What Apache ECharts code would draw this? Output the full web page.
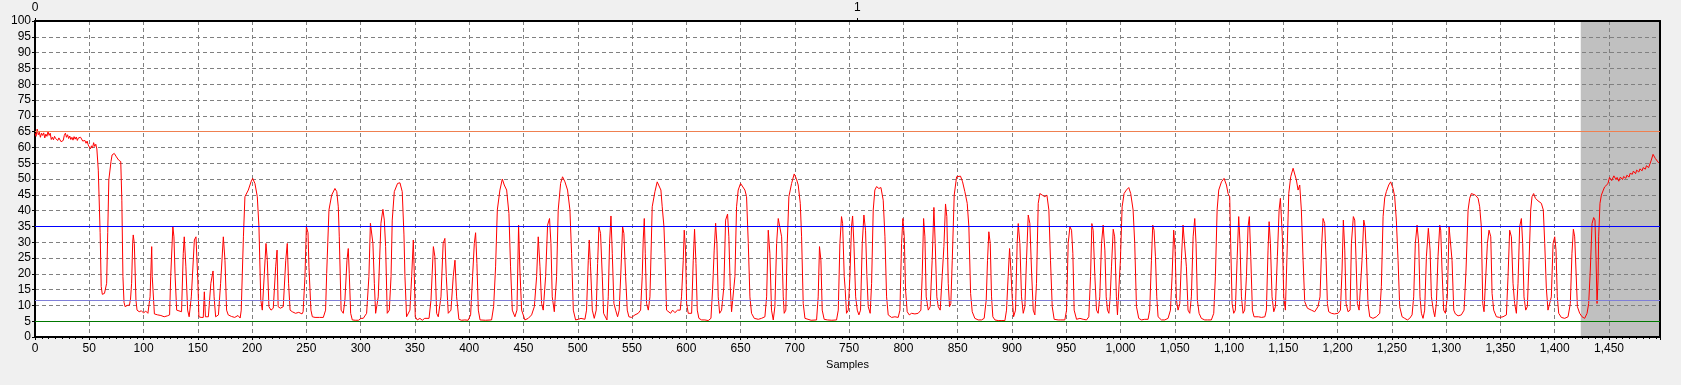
<!DOCTYPE html>
<html>
<head>
<meta charset="utf-8">
<script src="https://cdn.jsdelivr.net/npm/echarts@6/dist/echarts.min.js"></script>
<style>
html,body{margin:0;padding:0;background:#f0f0f0;}
#chart{width:1681px;height:385px;}
</style>
</head>
<body>
<div id="chart"></div>
<script>
// ---- data ----
const xTicks = [0,50,100,150,200,250,300,350,400,450,500,550,600,650,700,750,800,850,900,950,1000,1050,1100,1150,1200,1250,1300,1350,1400,1450];
const yTicks = [0,5,10,15,20,25,30,35,40,45,50,55,60,65,70,75,80,85,90,95,100];
const topTicks = [0, 1];
const xMax = 1497;
const topMax = 1.976;
const shadeRange = [1424, 1497];
const refValues = [65, 35, 11.6, 5];
const refColors = ['#ef8050', '#0000ff', '#7f7fd8', '#007800'];

// [sample, value] vertices of the red trace
const signalPoints = [
[0,64.5],[1,63.5],[2,65.8],[3,64],[4,64.8],[5,63.2],[6,64.5],[7,63.8],[8,64.6],[9,63],[10,64.2],[11,63.5],[12,65],[13,63.8],[14,64.5],[15,62.5],[16,63.2],[17,62.4],[18,63.5],[19,62.8],[20,63.2],[21,62.2],[22,63],[23,62.5],[24,61.8],[25,61.5],[26,62.2],[27,63.8],[28,64.5],[29,63.2],[30,64],[31,62.8],[32,63.6],[33,62.5],[34,63.2],[35,62.3],[36,63.4],[37,62.6],[38,63.3],[39,62.2],[40,63],[41,62.5],[42,63.2],[43,62.8],[44,62],[45,61.5],[46,62.2],[47,61.3],[48,62],[49,60.8],[50,60.5],[51,59.5],[52,60.5],[53,59.8],[54,61.5],[55,60.3],[56,61],[57,59.5],
[58.3,52.8],[60,33],[61,16],[62,13.5],[63,13.2],[64,13.8],[65,13.5],[66,17],[67,33],[68,49.7],[70,55.5],[71,57.6],[73,58.1],[75,57],[77,56],[79,55.5],[80,43.3],[81,19.1],[82,11],[83,9.6],[85,10],[87,10.1],[88,12],[89,17],[90,30],[90.5,32.3],[91.5,29.6],[93,11.7],[94,8.5],[96,8],[98,8.3],[100,7.6],[102,8.2],[104,7.5],[106,12.7],[107.5,28.6],[108,19.1],[109.6,9.6],[110,7.3],[113,7],[116,6.8],[119,6.4],[122,6.7],[124,7],[125,19.1],[127,34.9],[128,31.7],[129,20],[130.5,8.5],[132,8],[135,8],[136.6,26.5],[137.5,31.7],[139,22.2],[140.6,8.5],[142,6.4],[144,12.7],[146.8,30.7],[148.3,31.7],[150,18],[151,6.4],[153,6.2],[155,6.2],[156,14.3],[157,6.4],[159.7,6.4],[162,17],[164,20.9],[165,12.7],[166.4,6.4],[169,7],[171,17],[173.5,31.7],[175,24.3],[176.5,8.5],[178,7],[181,6.5],[184,6.2],[187,6.8],[189,6],[190,8.5],[192,31.7],[193.4,44.4],[196.5,46.5],[199,49.1],[200.5,50.2],[202.6,48.6],[204.8,44.4],[206.3,34.9],[208,11.7],[209.4,8.5],[211,8.5],[212.8,29.6],[214,24.3],[215.5,9.6],[217.4,8.5],[219.5,9.1],[221.7,22.2],[223,27.5],[224,9.6],[226,9.1],[228.7,9.6],[231,24.3],[232.4,29.6],[233.6,17],[235,8.5],[237,8],[240,7.5],[243,7.8],[246,7.3],[247,8],
[248.7,19.1],[250,34.9],[251.5,33],[252.4,22],[254.2,8.5],[255.5,6.4],[258,6.2],[262,6.2],[265.6,6.2],[267.7,8.5],[268.7,20.1],[270.8,40.2],[273.3,44.9],[276.3,47],[278,46],[279.4,41.2],[280.3,31.7],[282,8.5],[284,7.5],[285.5,11.7],[287.4,24.3],[288.6,28],[289.5,20.1],[290.8,7.5],[292.3,5.4],[295,5.3],[298,5.3],[300.3,5.9],[302.4,5.9],[305.5,7.5],[307.6,19.1],[309,36],[310.1,35.4],[311.3,29.6],[312.6,17],[313.8,7.5],[316.2,12.7],[318.7,36],[320.5,40.4],[321.8,37],[323,28.6],[324.5,7.5],[326.4,8.5],[328,19.1],[329.1,37],[331,46],[334,48.6],[336.2,48.8],[338.3,46],[339.9,32.3],[340.8,19.1],[342.3,6.4],[345.4,8.5],[347,19.1],[348.5,30.7],[349.4,20.1],[350.3,6.4],[352.2,5.4],[354.6,5.9],[356.8,5.3],[359,5.9],[363,5.9],[364.8,11.7],[367,28.6],[368.4,25.4],[370,7.5],[371.5,6.4],[374,12.7],[376,29.6],[377.6,31.2],[378.9,19.1],[380.7,7.5],[383.2,8.5],[385.3,19.1],[386.9,24.3],[388.4,12.7],[390.5,5.6],[393,5.3],[396,5.4],[399,5.3],[401.3,7],[403.1,19.1],[404.7,29.6],[405.9,33],[407.1,23.3],[408.4,8.5],[410,5.4],[415,5.3],[420.6,5.4],[422.5,9.6],[424.3,22.2],[425.9,40.2],[428.3,46.5],[430.5,50],[432.3,48.1],[434.5,46.5],[436.6,39.1],[438.1,22.2],[439.7,8.5],[442.1,6.4],[444,8.5],[445.5,35.4],[446.7,21.2],[448.3,8.5],[451.3,5.4],[454.4,5.9],[457.5,7],[460,9.6],[462.1,19.1],[463.6,31.7],[465.2,22.2],[466.7,10.6],[468.2,8.5],[470.4,19.1],[472.2,35.4],[474,37.5],[475.3,29.6],[476.5,12.7],[478.4,8],[480.5,19.1],[482,40.2],[484.2,48.6],[486,50.7],[488.2,49.1],[490.6,46.5],[492.8,40.2],[494.3,26.5],[495.9,8.5],[498,5.4],
[500.5,5.6],[503,5.9],[506.6,5.6],[508.1,8.5],[509.7,24.3],[510.6,30.7],[511.8,22.2],[513.4,8.5],[515.2,5.9],[517,8.5],[518.3,23.3],[519.5,34.9],[521,32.8],[522.6,19.1],[523.8,7.5],[525,7],[526.9,5.4],[528.1,12.7],[529.3,29.6],[530.6,38.3],[531.8,26.5],[533.3,10.6],[534.9,8.5],[536.7,6.4],[538.2,8.5],[539.8,21.2],[541.3,34.9],[542.5,32.8],[544.1,19.1],[545.6,8.5],[547.1,6.4],[549.6,6.2],[552.7,7],[555.7,7.5],[557.9,8.5],[559.4,19.1],[560.3,30.7],[561.3,37.5],[562.2,26.5],[563.4,10.6],[565,8.5],[566.5,12.7],[568.6,41.2],[571.1,46],[573.2,49.1],[574.8,48.6],[576.6,46.5],[577.8,41.2],[579.4,34.9],[580.3,26.5],[581.8,8.5],[583.4,8],[585.5,7.5],[587.4,8.5],[589.5,7.7],[592,8.5],[594.4,8.5],[595.6,12.7],[597.2,24.3],[598.1,33.8],[599.3,27.5],[600.3,10.6],[601.8,7.5],[604.9,7.5],[606.4,24.3],[607.6,34.1],[608.9,23.3],[610.1,8.5],[611.6,5.9],[614.1,5.4],[617.1,5.4],[620.2,5.2],[622.7,5.9],[624.2,14.9],[625.7,27.5],[627,36],[628.2,29.6],[629.4,12.7],[630.7,7.5],[632.5,8.5],[634.6,15.9],[636.2,37],[638,38.9],[639.2,31.7],[640.5,15.9],[641.7,8],[643.2,7.5],[644.8,19.1],[646.3,41.2],[647.8,46.5],[650,48.6],[651.8,48.1],[654,46.5],[655.5,44.4],[657.1,29.6],[658.6,12.7],[660.1,7.5],[662.6,5.9],[666.3,5.6],[669.3,5.9],[672.4,6.4],[674,12.7],[675.5,33.8],[677,26.5],[678.5,8.5],[680.1,5.4],[681.6,9.6],[683.2,29.6],[684.7,37.5],[686.2,37.8],[687.8,31.7],[689.3,12.7],[690.2,7.5],[691.7,8.5],[693,29.6],[694.5,44.4],[697,48.6],[699.4,51.6],[701.3,50.2],[703.1,48.1],[705,42.3],[706.2,31.7],[707.7,10.6],[709.3,5.9],[711,5.4],[715,5.3],[720,5.4],[721.5,12.7],[722.7,28.6],[724,24.3],[725.2,8.5],[727,5.6],[730,5.4],[734,5.3],[738.4,5.4],[740,8.5],[741.5,29.6],[743,38.1],[744,35.9],[745.5,19.1],[746.3,15.4],[747.6,7.5],
[749.2,8.5],[750.7,19.1],[752.2,34.9],[753.2,38.3],[754.4,29.6],[756,12.7],[757.5,8.5],[759,7],[760.5,8.5],[762.1,29.6],[763.6,38.6],[765.1,33.8],[766.4,19.1],[767.6,9.6],[769.4,7.5],[770.7,17],[772.2,40.2],[773.7,46.5],[775.3,47.6],[777.4,47],[779.3,47.3],[781.4,43.3],[783,31.7],[784.5,12.7],[786,7],[789.1,6.2],[792.2,6.4],[795.2,6.2],[796.8,8.5],[798.3,29.6],[799.5,37.5],[800.8,31.7],[802,14.9],[803.5,8],[805.4,7],[807.5,7.5],[810.6,7.3],[813.6,7.5],[816.1,8.5],[817.3,19.1],[818.6,37.5],[819.8,31.7],[821,12.7],[822.9,8.5],[824.7,9.6],[826.5,24.3],[828.1,41],[829.3,29.6],[830.8,12.7],[832.1,9.6],[833.9,8.5],[835.7,19.1],[837.3,28.6],[838.8,42.1],[840,38.1],[841.3,17],[842.5,9.6],[843.7,10.6],[845,24.3],[846.8,44.9],[849,50.7],[850.5,50.2],[852.6,50.9],[854.5,49.1],[856.6,46],[858.8,42.3],[860.3,34.9],[861.9,13.8],[863.4,8],[865.8,5.9],[868.9,5.4],[872,5.4],[874.4,5.9],[876.3,11.7],[877.5,24.3],[878.7,33.3],[880,29.6],[881.2,12.7],[882.4,6.4],[884.3,5.4],[887.3,5.2],[890,5.2],[893.5,5.2],[895,8.5],[896.5,19.1],[897.8,28],[899,21.2],[900.2,12.7],[901.5,6.4],[903.3,8.5],[904.8,29.6],[905.8,35.9],[907.3,29.6],[908.8,12.7],[910.4,7.5],[911.9,9.6],[913.4,24.3],[915,38.6],[916.5,35.9],[918,21.2],[919.6,8.5],[921.1,7],[922.6,17],[924.2,42.3],[925.7,45.4],[927.9,44.9],[930.3,44.4],[932.2,44.9],[934,40.2],[935.5,24.3],[937.1,9.6],[938.9,5.6],[942.6,5.4],[945,5.4],[948.7,5.4],[950.3,8.5],[951.8,29.6],[953.4,34.9],[954.9,33.8],[956.1,26.5],[957.3,8.5],[959.5,5.6],[962.6,5.9],[965.6,5.6],[968.7,5.4],[970.8,6.4],[972.4,19.1],[973.6,35.9],[974.8,33.8],[976.4,19.1],[977.9,8.5],[979.4,7.5],[980.9,12.7],[982.5,29.6],[984,35.4],[985.6,27.5],[986.8,12.7],[988,8.5],[989.3,7.5],[990.5,12.7],[991.7,22.2],[993.3,34.1],[994.6,31.7],
[996.2,12.7],[997.2,7],[998.4,6.4],[999.9,24.3],[1001.5,41.2],[1003.3,45.4],[1005.4,46.5],[1007.6,47.3],[1009.4,45.4],[1011.6,40.2],[1013.1,29.6],[1014.7,9.6],[1016.8,5.9],[1019.3,5.4],[1022.3,5.6],[1025.4,5.6],[1026.9,8.5],[1028.5,24.3],[1029.7,35.4],[1030.9,33.8],[1032.2,25.4],[1033.4,12.7],[1034.6,6.4],[1037.7,5.4],[1040.8,5.4],[1043.8,5.9],[1046,8.5],[1047.5,19.1],[1049,33.8],[1050.3,27.5],[1051.5,11.7],[1053,8.5],[1054.6,10.6],[1056.1,24.3],[1057.6,35.4],[1059.2,35.9],[1060.7,22.2],[1062.2,8.5],[1063.8,7.5],[1065.3,12.7],[1066.9,31.7],[1068.4,37.5],[1069.6,29.6],[1070.8,11.7],[1072.4,7.5],[1074.5,5.9],[1077.6,5.4],[1080,5.4],[1083.7,5.4],[1085.9,7.5],[1087.4,19.1],[1089,40.2],[1090.5,46.5],[1093,49.1],[1095.4,50.2],[1097.6,48.1],[1099.1,45.4],[1100.6,44.4],[1101.5,29.6],[1102.8,10.6],[1104.3,7.5],[1105.8,8.5],[1107.4,24.3],[1108.9,38.1],[1110.1,29.6],[1111.4,12.7],[1112.9,7.5],[1114.4,8.5],[1116,19.1],[1117.5,34.9],[1118.7,38.1],[1120,25.4],[1121.5,8.5],[1123,6.4],[1127,6.4],[1130,6.2],[1133,6.4],[1134.4,8.5],[1135.9,27.5],[1136.9,36.5],[1138.1,29.6],[1139.6,12.7],[1141.2,8],[1142.7,9.6],[1144.5,25.4],[1146.1,40.2],[1147.3,43.9],[1148.2,43.3],[1149.1,31.7],[1150.4,12.7],[1151.9,8.5],[1152.8,9.1],[1153.7,29.6],[1155,45.4],[1156.8,50.7],[1159,53.4],[1160.5,52.8],[1162,49.7],[1163.6,46.5],[1165.1,48.1],[1166.6,40.2],[1168.2,24.3],[1169.7,11.2],[1172.2,9.1],[1175.8,8.5],[1178.9,8],[1181.9,9.6],[1183.8,12.7],[1185.4,29.6],[1186.6,37.5],[1188.1,35.9],[1189.4,24.3],[1190.6,10.6],[1191.8,8],[1194.3,7.5],[1197,7.3],[1200.4,7.5],[1202.6,8.5],[1204.1,21.2],[1205.3,37],[1206.6,27.5],[1207.8,10.6],[1209.6,8],[1211.5,8.5],[1212.7,29.6],[1214.5,38.1],[1215.8,37],[1217,24.3],[1218.2,10.6],[1219.8,8.5],[1221.3,8.5],[1222.5,24.3],[1224.1,37],[1225.3,34.9],[1226.5,26.5],[1228,10.6],[1229.6,6.4],[1232.6,5.9],[1235.7,6.4],[1238.8,7.5],[1240.3,15.9],[1241.9,38.1],
[1243.4,44],[1244.9,46],[1247.1,48.1],[1248.9,49.1],[1251.1,47],[1252.6,44.4],[1254.1,37],[1255.7,24.3],[1257.2,9.6],[1259.4,6.4],[1261.8,5.9],[1264.3,5.4],[1266.4,5.9],[1268.6,7],[1270.1,12.7],[1271.6,29.6],[1273.2,35.4],[1274.7,29.6],[1275.9,12.7],[1277.2,7.5],[1278.7,5.9],[1280.2,8.5],[1281.8,25.4],[1283.6,34.4],[1285.2,27.5],[1286.4,12.7],[1288.2,8.5],[1289.5,6.4],[1291,10.6],[1292.5,25.4],[1294.1,35.4],[1295,33.8],[1296.2,21.2],[1297.7,8.5],[1299.3,7.5],[1301.1,12.7],[1302.7,34.9],[1303.9,34.4],[1305.4,24.3],[1307,8.5],[1308.5,7.3],[1311,6.7],[1314,7],[1316.5,8.5],[1318.3,21.2],[1320.2,40.2],[1321.7,43.9],[1323.2,45.4],[1324.8,46],[1326.9,44.9],[1329.4,43.9],[1330.9,41.2],[1332.4,34.9],[1333.7,10.6],[1334.9,8],[1336.4,8.5],[1338,29.6],[1339.5,33.8],[1341.1,31.7],[1342.3,13.8],[1343.8,8.5],[1346.3,6.4],[1349.3,6.2],[1352.4,6.4],[1355.5,7],[1357,19.1],[1358.5,33.8],[1360.1,31.7],[1361.6,17],[1363.1,10.6],[1364.7,7.5],[1366.2,17],[1367.7,34.9],[1369.3,37.5],[1370.5,29.6],[1371.7,12.7],[1373.3,8.5],[1374.8,9.6],[1376.4,24.3],[1377.9,40.2],[1379.1,44.4],[1380.6,45.4],[1382.2,43.9],[1384.6,43.1],[1387.7,42.3],[1389.5,40.2],[1390.8,29.6],[1392.3,15.4],[1393.8,8.5],[1395.4,8],[1396.9,12.7],[1398.5,29.6],[1400,31.7],[1401.2,27.5],[1402.4,12.7],[1403.7,7.5],[1406.1,6.2],[1409.2,5.9],[1412.3,6.4],[1414.4,10.6],[1415.9,26.5],[1417.2,34.1],[1418.4,31.7],[1419.6,21.2],[1420.9,9.6],[1423,7.5],[1425.2,6.4],[1427.6,5.9],[1429.8,7.5],[1431.3,10.6],[1432.8,21.2],[1434.4,35.9],[1435.9,37.8],[1437.1,37],[1438.1,24.3],[1439,10.6],[1439.9,18],[1440.5,31.7],[1441.7,42.3],[1443,44.9],[1444.8,46.5],[1446,47.5],[1447.6,47],[1449,48.5],[1450.5,50.5],[1452.5,49.5],[1454.5,51],[1456.5,49.8],[1457.5,50.5],[1459,49.3],[1460.5,50.6],[1462.5,49.8],[1463.5,50.8],[1465.5,50.2],[1466.5,51.2],[1468.5,50.6],[1469.5,51.8],[1471.5,51.5],[1472.5,52.5],[1474.5,51.7],[1475.5,52.8],[1477.5,52.2],[1478.5,53.2],[1480.5,52.6],[1481.5,53.6],[1483.5,53.1],[1484.5,54.2],[1486.5,53.6],[1487.5,53.4],[1489,56],[1490.6,57.8],[1492.7,56.5],[1494.5,56],[1495.8,55.1]
];

const fontFamily = 'Liberation Sans, Arial, sans-serif';
const chart = echarts.init(document.getElementById('chart'), null, {renderer: 'canvas'});

const fmt = v => v.toLocaleString('en-US');

chart.setOption({
  animation: false,
  backgroundColor: '#f0f0f0',
  textStyle: {fontFamily: fontFamily},
  grid: {left: 35, right: 21, top: 21, bottom: 48, show: true, backgroundColor: '#ffffff', borderWidth: 0, z: -3},
  xAxis: [{
    type: 'value', position: 'bottom', min: xTicks[0], max: xMax, interval: xTicks[1] - xTicks[0],
    name: 'Samples', nameLocation: 'middle', nameGap: 22,
    nameTextStyle: {color: '#000', fontSize: 11, fontFamily: fontFamily},
    axisLine: {show: true, lineStyle: {color: '#000', width: 2}},
    axisTick: {show: true, length: 3, lineStyle: {color: '#000'}},
    minorTick: {show: true, splitNumber: 8, length: 2, lineStyle: {color: '#000'}},
    axisLabel: {color: '#000', fontSize: 12, margin: 6, showMaxLabel: false, formatter: fmt},
    splitLine: {show: true, lineStyle: {color: '#808080', type: [4, 3], width: 1}}
  }, {
    type: 'value', position: 'top', min: topTicks[0], max: topMax, interval: topTicks[1] - topTicks[0],
    axisLine: {show: true, onZero: false, lineStyle: {color: '#000', width: 2}},
    axisTick: {show: true, length: 3, lineStyle: {color: '#000'}},
    axisLabel: {color: '#000', fontSize: 12, margin: 7, showMaxLabel: false},
    splitLine: {show: false}
  }],
  yAxis: [{
    type: 'value', position: 'left', min: yTicks[0], max: yTicks[yTicks.length - 1], interval: yTicks[1] - yTicks[0],
    axisLine: {show: true, lineStyle: {color: '#000', width: 2}},
    axisTick: {show: true, length: 3, lineStyle: {color: '#000'}},
    axisLabel: {color: '#000', fontSize: 12, margin: 4},
    splitLine: {show: true, lineStyle: {color: '#808080', type: [4, 3], width: 1}}
  }, {
    type: 'value', position: 'right', min: yTicks[0], max: yTicks[yTicks.length - 1], interval: yTicks[1] - yTicks[0],
    axisLine: {show: true, onZero: false, lineStyle: {color: '#000', width: 2}},
    axisTick: {show: false}, axisLabel: {show: false}, splitLine: {show: false}
  }],
  series: [{
    type: 'line', data: [], z: -2, silent: true,
    markArea: {silent: true, z: -2, itemStyle: {color: '#c0c0c0'}, data: [[{xAxis: shadeRange[0]}, {xAxis: shadeRange[1]}]]}
  }, {
    type: 'line', data: [], z: 1, silent: true,
    markLine: {
      silent: true, symbol: 'none', label: {show: false},
      data: refValues.map((v, i) => ({yAxis: v, lineStyle: {color: refColors[i], width: 1.2, type: 'solid'}}))
    }
  }, {
    type: 'line', data: signalPoints, showSymbol: false, symbol: 'none', z: 3,
    lineStyle: {color: '#ff0000', width: 1}, sampling: null, silent: true
  }]
});
</script>
</body>
</html>
